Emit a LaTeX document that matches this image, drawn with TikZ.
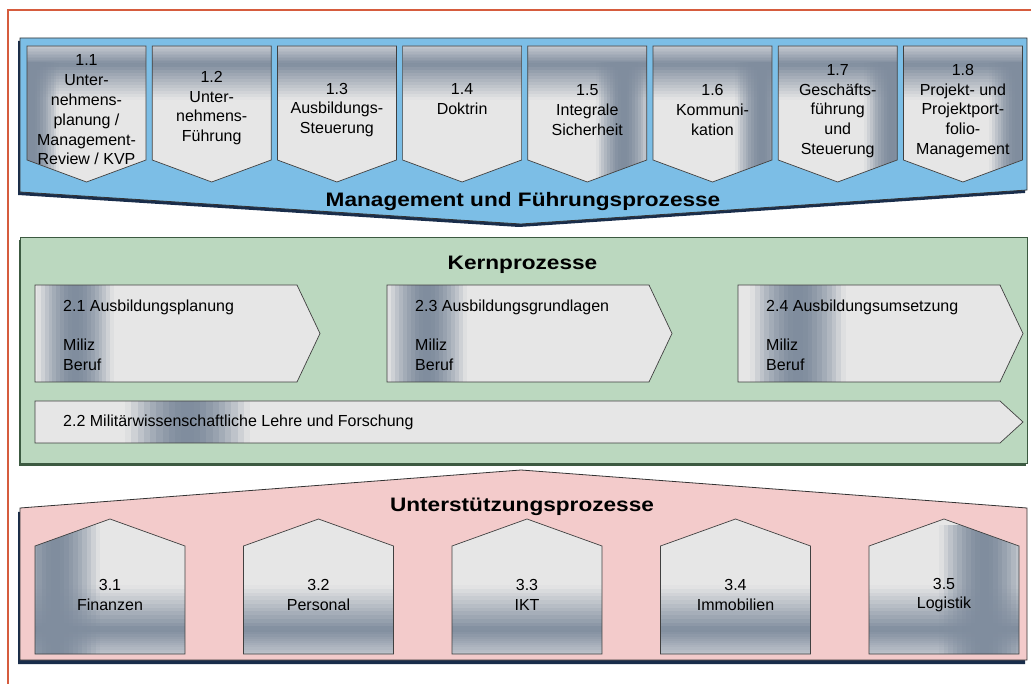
\documentclass[tikz,border=0pt]{standalone}
\usepackage{fontspec}
\setmainfont{Liberation Sans}
\newfontfamily\titlefont[FakeStretch=1.16]{Liberation Sans}
\definecolor{framered}{RGB}{214,92,62}
\definecolor{mgmtblue}{RGB}{124,190,230}
\definecolor{navy}{RGB}{25,45,75}
\definecolor{kerngreen}{RGB}{187,216,191}
\definecolor{greenedge}{RGB}{60,90,65}
\definecolor{supppink}{RGB}{243,203,203}
\definecolor{boxlight}{RGB}{230,230,230}
\definecolor{boxmid}{RGB}{196,200,207}
\definecolor{boxdark}{RGB}{128,141,158}

% vertical gradient in strips: x1,x2,y1,y2,from,to
\newcommand{\vgrad}[6]{%
  \foreach \k in {0,...,11}{%
    \pgfmathsetmacro{\p}{100*(\k+0.5)/12}%
    \fill[#6!\p!#5] (#1,{round(#3+(#4-#3)*\k/12)}) rectangle (#2,{round(#3+(#4-#3)*(\k+1)/12)});
  }}
% soft dark band across: x1,x2,y1,y2
\newcommand{\hband}[4]{%
  \foreach \k in {0,...,19}{%
    \pgfmathsetmacro{\p}{sin(180*(\k+0.5)/20)}%
    \fill[boxdark,fill opacity=\p] ({round(#1+(#2-#1)*\k/20)},#3) rectangle ({round(#1+(#2-#1)*(\k+1)/20)},#4);
  }}

\begin{document}
\begin{tikzpicture}[
        x=1pt,
        y=-1pt,
        panel/.style={
          draw=black!80,
          line width=0.8pt
        },
        procbox/.style={
          draw=black!75,
          line width=0.7pt,
          fill=boxlight
        },
        boxtext/.style={
          font=\fontsize{16}{19.8}\selectfont,
          align=center,
          inner sep=0pt
        },
        kerntext/.style={
          font=\fontsize{16}{19.5}\selectfont,
          align=left,
          inner sep=0pt
        },
        title/.style={
          font=\titlefont\bfseries\fontsize{19.5}{22}\selectfont,
          anchor=base,
          inner sep=0pt
        }
      ]
        \useasboundingbox (0,0) rectangle (1031,684);
        \draw[framered,line width=2pt] (8,684) -- (8,10) -- (1031,10);

        % Management und Fuehrungsprozesse
        \fill[navy,shift={(-2,3)}] (20,38) -- (1027,38) -- (1027,190) -- (521,224) -- (20,192) -- cycle;
        \path[panel,fill=mgmtblue] (20,38) -- (1027,38) -- (1027,190) -- (521,224) -- (20,192) -- cycle;

        \foreach \i/\ty/\bl/\br/\op/\txt in {
            1/110/-22/32/1/{1.1\\Unter-\\nehmens-\\planung /\\Management-\\Review / KVP},
            2/108/0/1/0/{1.2\\Unter-\\nehmens-\\Führung},
            3/110/0/1/0/{1.3\\Ausbildungs-\\Steuerung},
            4/99/0/1/0/{1.4\\Doktrin},
            5/110/68/124/1/{1.5\\Integrale\\Sicherheit},
            6/110/82/136/1/{1.6\\Kommuni-\\kation},
            7/111/86/142/1/{1.7\\Geschäfts-\\führung\\und\\Steuerung},
            8/111/86/142/1/{1.8\\Projekt- und\\Projektport-\\folio-\\Management}} {
          \pgfmathsetmacro{\x}{27+(\i-1)*125.2}
          \pgfmathsetmacro{\xl}{\x+\bl}
          \pgfmathsetmacro{\xr}{\x+\br}
          \path[procbox,path picture={
              \vgrad{\x}{\x+119}{46}{64}{boxmid}{boxdark}
              \vgrad{\x}{\x+119}{64}{100}{boxdark}{boxlight}
              \ifnum\op=1 \hband{\xl}{\xr}{62}{184}\fi
            }]
            (\x,46) -- (\x+119,46) -- (\x+119,160) -- (\x+59.5,182) -- (\x,160) -- cycle;
          \node[boxtext] (mgmt\i) at (\x+59.5,\ty) {\txt};
        }
        \node[title] (mgmttitle) at (523,206.5) {Management und Führungsprozesse};

        % Kernprozesse
        \fill[greenedge,shift={(-1,3)}] (20,237) rectangle (1027,463);
        \path[draw=greenedge,line width=0.8pt,fill=kerngreen] (20,237) rectangle (1027,463);
        \node[title] (kerntitle) at (522.5,270) {Kernprozesse};

        \foreach \i/\x/\bl/\br/\txt in {
            1/35/2/75/{2.1 Ausbildungsplanung},
            3/387/0/80/{2.3 Ausbildungsgrundlagen},
            4/738/12/84/{2.4 Ausbildungsumsetzung}} {
          \path[procbox,path picture={\hband{\x+\bl}{\x+\br}{285}{382}}]
            (\x,285) -- (\x+262,285) -- (\x+285,333.5) -- (\x+262,382) -- (\x,382) -- cycle;
          \node[kerntext,anchor=north west] (kern\i) at (\x+28,300) {\txt\\[19.5pt]Miliz\\Beruf};
        }
        \path[procbox,path picture={\hband{125}{250}{401}{443}}]
          (35,401) -- (1000,401) -- (1023,422) -- (1000,443) -- (35,443) -- cycle;
        \node[kerntext,anchor=west] (kern2) at (63,422.5) {2.2 Militärwissenschaftliche Lehre und Forschung};

        % Unterstuetzungsprozesse
        \fill[navy,shift={(-2,4)}] (20,508) -- (521,470) -- (1027,508) -- (1027,660) -- (20,660) -- cycle;
        \path[panel,fill=supppink] (20,508) -- (521,470) -- (1027,508) -- (1027,660) -- (20,660) -- cycle;
        \node[title] (supptitle) at (522,511) {Unterstützungsprozesse};

        \foreach \i/\bl/\br/\op/\txt in {
            1/-25/65/1/Finanzen,
            2/0/1/0/Personal,
            3/0/1/0/IKT,
            4/0/1/0/Immobilien,
            5/70/160/1/Logistik} {
          \pgfmathsetmacro{\x}{35+(\i-1)*208.5}
          \pgfmathsetmacro{\xl}{\x+\bl}
          \pgfmathsetmacro{\xr}{\x+\br}
          \path[procbox,path picture={
              \vgrad{\x}{\x+150}{585}{630}{boxlight}{boxdark}
              \vgrad{\x}{\x+150}{630}{656}{boxdark}{boxmid}
              \ifnum\op=1 \hband{\xl}{\xr}{525}{656}\fi
            }]
            (\x,654) -- (\x,546) -- (\x+75,519) -- (\x+150,546) -- (\x+150,654) -- cycle;
          \node[boxtext] (supp\i) at (\x+75,595) {3.\i\\\txt};
        }
      \end{tikzpicture}
\end{document}
